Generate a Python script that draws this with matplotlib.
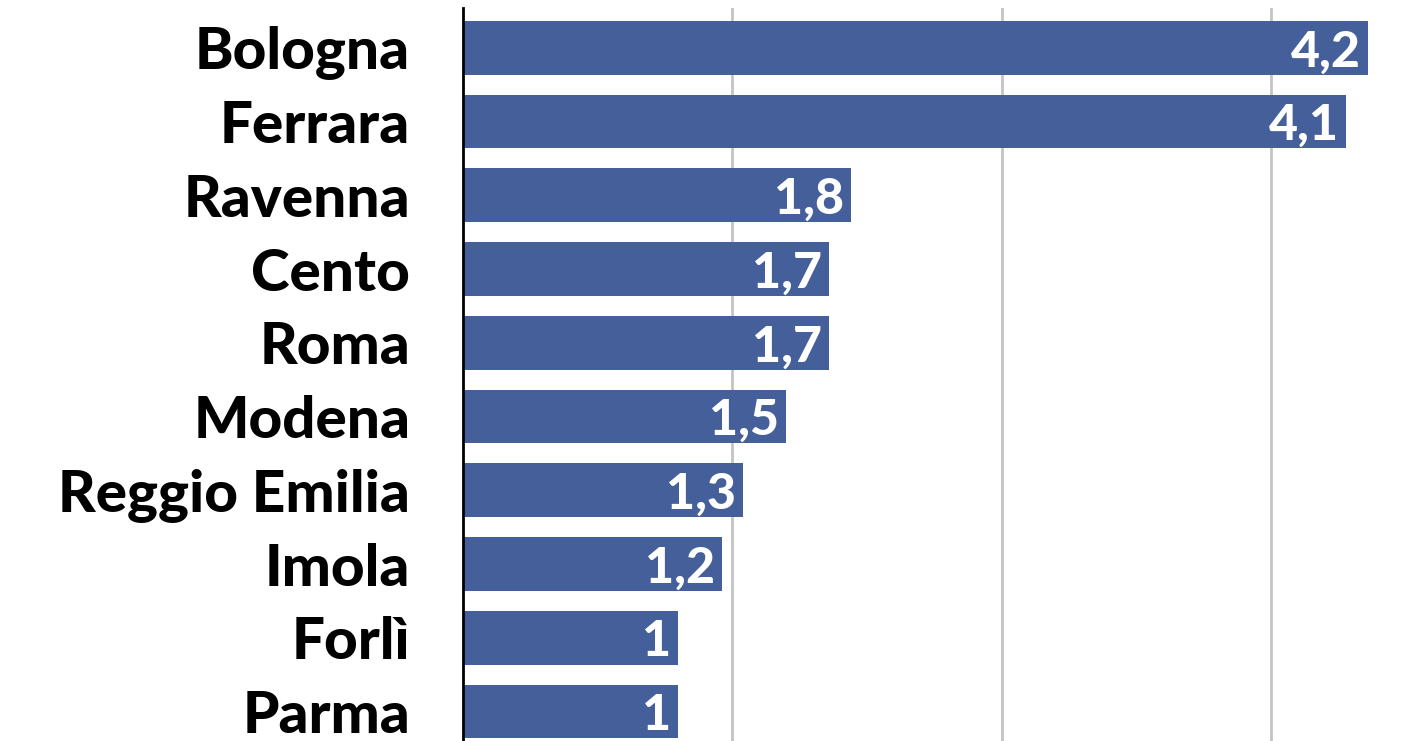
import matplotlib

matplotlib.use("Agg")
import matplotlib.pyplot as plt

cities = ["Bologna", "Ferrara", "Ravenna", "Cento", "Roma", "Modena",
          "Reggio Emilia", "Imola", "Forlì", "Parma"]
values = [4.2, 4.1, 1.8, 1.7, 1.7, 1.5, 1.3, 1.2, 1.0, 1.0]
value_labels = ["4,2", "4,1", "1,8", "1,7", "1,7", "1,5", "1,3", "1,2", "1", "1"]
grid_ticks = [1.25, 2.5, 3.75]

BAR_COLOUR = "#445f99"
FONT = ["Lato", "DejaVu Sans"]

fig = plt.figure(figsize=(14.13, 7.41), dpi=100)
ax = fig.add_axes([463 / 1413, 0.0, 1 - 463 / 1413, 733 / 741])

positions = list(range(len(cities)))
ax.barh(positions, values, height=0.73, color=BAR_COLOUR, zorder=2)
ax.set_ylim(9.4, -0.54)
ax.set_xlim(0, 4.41)

ax.set_xticks(grid_ticks)
ax.tick_params(axis="x", length=0, labelbottom=False)
ax.xaxis.grid(True, color="#c4c4c4", linewidth=2, zorder=0)

ax.set_yticks(positions)
ax.set_yticklabels(cities, fontfamily=FONT, fontweight=900, fontsize=42)
ax.tick_params(axis="y", length=0, pad=38)

for spine in ("top", "right", "bottom"):
    ax.spines[spine].set_visible(False)
ax.spines["left"].set_linewidth(2)
ax.spines["left"].set_zorder(3)

for pos, val, text in zip(positions, values, value_labels):
    ax.annotate(text, xy=(val, pos), xytext=(-5, 0), textcoords="offset points",
                ha="right", va="center_baseline", color="white",
                fontsize=36, fontweight=900, family=FONT, zorder=4)

fig.savefig("out.png", dpi=100)
